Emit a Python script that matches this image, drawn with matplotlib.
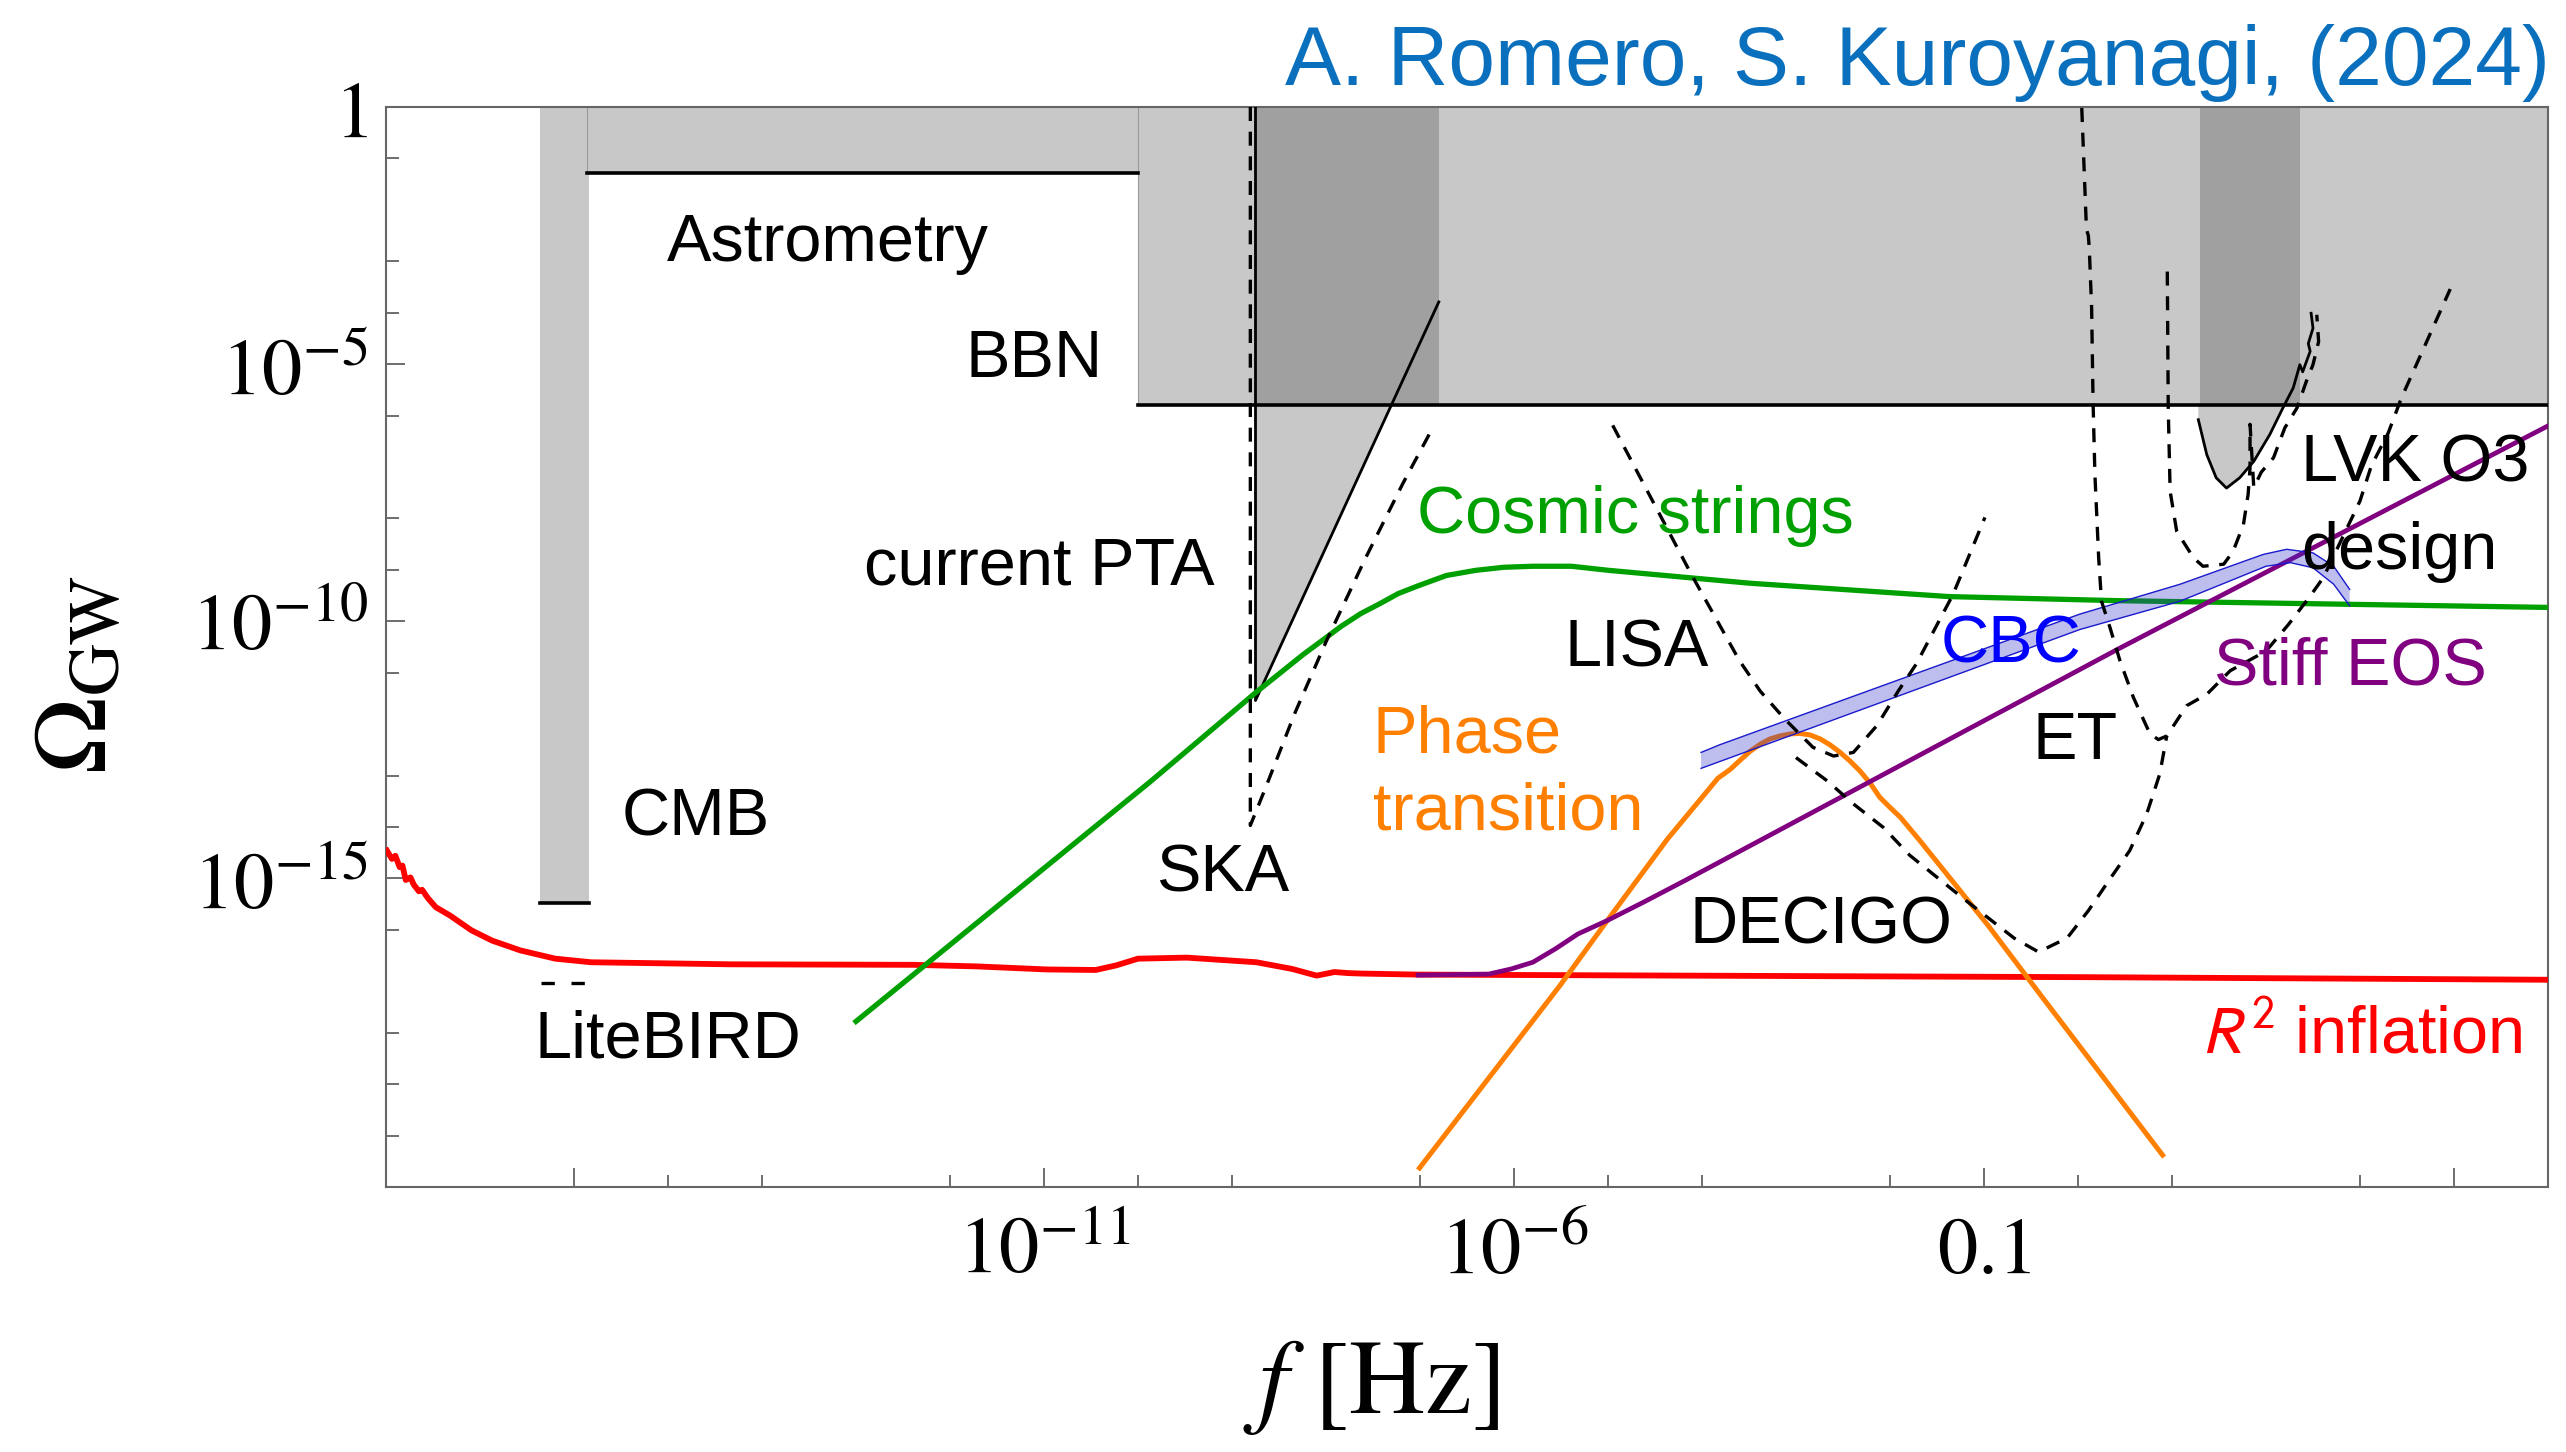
import numpy as np
import matplotlib
matplotlib.use('Agg')
import matplotlib.pyplot as plt

plt.rcParams['font.family'] = ['Liberation Sans', 'DejaVu Sans']
plt.rcParams['mathtext.fontset'] = 'stix'

# every number below is log10(f/Hz) or log10(Omega_GW)

# R^2 inflation
r2_logf = [-17.99, -17.937, -17.90, -17.855, -17.825, -17.79, -17.74, -17.705, -17.65, -17.616,
           -17.556, -17.47, -17.32, -17.09, -16.87, -16.57, -16.20, -15.82, -14.33, -12.39,
           -11.72, -10.97, -10.45, -10.23, -10.0, -9.48, -8.74, -8.36, -8.10, -7.91, -7.77,
           -7.62, -7.02, 0.08, 4.98]
r2_logom = [-14.46, -14.62, -14.56, -14.78, -14.75, -15.03, -14.98, -15.12, -15.25, -15.22,
            -15.38, -15.56, -15.72, -16.01, -16.21, -16.40, -16.56, -16.63, -16.67, -16.68,
            -16.71, -16.77, -16.78, -16.69, -16.56, -16.54, -16.63, -16.76, -16.89, -16.82, -16.84,
            -16.85, -16.87, -16.92, -16.97]

# cosmic strings
cs_logf = [-13.0, -9.87, -8.75, -8.245, -7.84, -7.63, -7.43, -7.23, -7.02, -6.72, -6.41, -6.11,
           -5.80, -5.39, -4.99, -3.49, -1.37, 0.45, 4.99]
cs_logom = [-17.78, -13.12, -11.39, -10.65, -10.10, -9.85, -9.66, -9.46, -9.31, -9.11, -9.01, -8.95,
            -8.93, -8.93, -9.01, -9.26, -9.52, -9.60, -9.73]

# stiff EOS
se_logf = [-7.02, -6.27, -6.03, -5.80, -5.56, -5.32, -5.01, -4.62, -4.18, 0.447, 4.99]
se_logom = [-16.88, -16.86, -16.76, -16.63, -16.37, -16.08, -15.82, -15.46, -15.04, -10.52, -6.21]

# phase transition
pt_logf = [-7.005, -5.51, -5.02, -4.37, -3.83, -3.70, -3.60, -3.49, -3.38, -3.28, -3.17, -3.06,
           -2.96, -2.85, -2.74, -2.64, -2.53, -2.43, -2.32, -2.21, -2.11, -2.0, -1.89, -1.68,
           -0.95, -0.38, 0.90]
pt_logom = [-20.63, -17.08, -15.85, -14.24, -13.05, -12.88, -12.71, -12.53, -12.39, -12.29, -12.23,
            -12.19, -12.18, -12.21, -12.29, -12.40, -12.55, -12.71, -12.91, -13.15, -13.42, -13.62,
            -13.81, -14.27, -15.93, -17.31, -20.38]

# CBC band
cbc_up_logf = [-4.01, -3.81, 0.02, 1.085, 1.97, 2.22, 2.50, 2.72, 2.89]
cbc_up_logom = [-12.55, -12.40, -9.86, -9.28, -8.70, -8.60, -8.67, -8.93, -9.38]
cbc_lo_logf = [-4.01, 0.02, 1.085, 2.0, 2.26, 2.50, 2.72, 2.89]
cbc_lo_logom = [-12.86, -10.16, -9.61, -8.93, -8.86, -8.96, -9.28, -9.70]

# sensitivity curves (dashed)
ska_logf = [-8.805, -8.805, -8.65, -8.33, -8.0, -7.59, -7.185, -6.88]
ska_logom = [0.0, -13.97, -13.27, -11.78, -10.40, -8.81, -7.33, -6.29]

lisa_logf = [-4.95, -4.11, -3.60, -3.38, -3.12, -2.82, -2.60, -2.39, -2.14, -1.91, -1.72, -1.33, -0.99]
lisa_logom = [-6.19, -9.10, -10.77, -11.36, -11.90, -12.45, -12.62, -12.55, -12.03, -11.35, -10.83,
              -9.48, -7.98]

decigo_logf = [-3.0, -2.67, -2.39, -2.07, -1.79, -1.22, -0.68, -0.42, -0.116, 0.113, 0.34, 0.55,
               0.73, 0.87, 0.944]
decigo_logom = [-12.65, -13.10, -13.55, -14.01, -14.55, -15.39, -16.16, -16.43, -16.16, -15.62,
                -15.01, -14.46, -13.75, -12.97, -12.23]

et_logf = [0.04, 0.09, 0.11, 0.12, 0.145, 0.16, 0.18, 0.22, 0.25, 0.34, 0.447, 0.589, 0.766, 0.855,
           0.944, 1.157, 1.37, 1.62, 2.0, 2.24, 2.47, 2.61, 3.0, 3.12, 3.30, 3.44, 3.96]
et_logom = [-0.02, -2.38, -2.5, -2.75, -3.91, -5.72, -7.15, -8.77, -9.61, -10.12, -10.77, -11.48,
            -12.19, -12.30, -12.23, -11.64, -11.42, -10.96, -10.58, -10.06, -9.51, -9.15, -7.66,
            -6.98, -6.34, -5.66, -3.54]

lvkd_logf = [0.95, 0.96, 0.98, 1.05, 1.23, 1.33, 1.55, 1.65, 1.76, 1.81, 1.83, 1.83, 1.87, 1.95,
             2.08, 2.20, 2.33, 2.43, 2.50, 2.56, 2.54]
lvkd_logom = [-3.20, -5.85, -7.47, -8.25, -8.77, -8.93, -8.89, -8.64, -8.12, -7.53, -7.02, -6.17,
              -7.40, -7.10, -6.82, -6.24, -5.85, -5.33, -5.01, -4.56, -4.04]

# LVK O3 upper limit (solid)
o3_logf = [1.28, 1.37, 1.47, 1.58, 1.72, 1.87, 2.04, 2.18, 2.29, 2.36, 2.39, 2.47, 2.45, 2.50, 2.48]
o3_logom = [-6.08, -6.76, -7.21, -7.41, -7.21, -6.89, -6.37, -5.85, -5.46, -5.01, -5.15, -4.75,
            -4.60, -4.30, -4.01]

# current PTA bound
pta_logf = [-8.75, -8.75, -6.80]
pta_logom = [0.0, -11.54, -3.79]

# constraints from boxes
bbn_logf = [-10.0, 5.0]
bbn_logom = -5.79
astro_logf = [-15.86, -10.0]
astro_logom = -1.28
cmb_logf = [-16.36, -15.84]
cmb_logom = -15.48
litebird_logf = [-16.35, -15.86]
litebird_logom = -17.04
pta_dark_logf = [-8.75, -6.80]
lvk_dark_logf = [1.30, 2.36]

x_major = [-16, -11, -6, -1, 4]
x_major_labels = ['', r'$10^{-11}$', r'$10^{-6}$', r'$0.1$', '']
x_minor = [-15, -14, -12, -10, -9, -7, -5, -4, -2, 0, 1, 3]
y_major = [0, -5, -10, -15]
y_major_labels = [r'$1$', r'$10^{-5}$', r'$10^{-10}$', r'$10^{-15}$']
y_minor = [-1, -3, -4, -6, -8, -9, -11, -13, -14, -16, -18, -19, -20]

labels = [
    ('Astrometry', -13.30, -2.66, 'black', 'center'),
    ('BBN', -11.11, -4.91, 'black', 'center'),
    ('current PTA', -11.05, -8.95, 'black', 'center'),
    ('CMB', -14.71, -13.84, 'black', 'center'),
    ('LiteBIRD', -15.0, -18.16, 'black', 'center'),
    ('SKA', -9.10, -14.92, 'black', 'center'),
    ('Cosmic strings', -4.71, -7.96, '#00a000', 'center'),
    ('LISA', -4.70, -10.54, 'black', 'center'),
    ('Phase', -7.50, -12.22, '#ff8000', 'left'),
    ('transition', -7.50, -13.72, '#ff8000', 'left'),
    ('CBC', -0.71, -10.48, '#0000ff', 'center'),
    ('ET', -0.03, -12.35, 'black', 'center'),
    ('DECIGO', -2.73, -15.94, 'black', 'center'),
    ('LVK O3', 2.37, -6.95, 'black', 'left'),
    ('design', 2.37, -8.66, 'black', 'left'),
    ('Stiff EOS', 1.45, -10.89, '#800080', 'left'),
]


def L(a):
    return 10.0 ** np.asarray(a, dtype=float)


light = '#c8c8c8'
dark = '#a0a0a0'
dash = (0, (4.2, 3.2))

fig = plt.figure(figsize=(25.66, 14.52), dpi=100)
ax = fig.add_axes([386 / 2566, 1 - 1187 / 1452, 2162 / 2566, 1080 / 1452])
ax.set_xscale('log')
ax.set_yscale('log')
ax.set_xlim(1e-18, 1e5)
ax.set_ylim(1e-21, 1)

# shaded excluded regions
ax.fill_between(L(bbn_logf), L(bbn_logom), 1, color=light, lw=0, zorder=1)
ax.fill_between(L(astro_logf), L(astro_logom), 1, color=light, lw=0, zorder=1)
ax.fill_between(L(cmb_logf), L(cmb_logom), 1, color=light, lw=0, zorder=1)
ax.fill(L(pta_logf + [pta_logf[-1]]), L(pta_logom + [0.0]), color=light, lw=0, zorder=1)
ax.fill(L([o3_logf[0]] + o3_logf + [o3_logf[-1]]), L([0.0] + o3_logom + [0.0]),
        color=light, lw=0, zorder=1)
ax.fill_between(L(pta_dark_logf), L(bbn_logom), 1, color=dark, lw=0, zorder=1.5)
ax.fill_between(L(lvk_dark_logf), L(bbn_logom), 1, color=dark, lw=0, zorder=1.5)
ax.plot(L([astro_logf[0]] * 2), L([astro_logom, 0]), color='#9a9a9a', lw=0.8, zorder=1.6)
ax.plot(L([bbn_logf[0]] * 2), L([bbn_logom, 0]), color='#9a9a9a', lw=0.8, zorder=1.6)

# bound lines
ax.plot(L(bbn_logf), L([bbn_logom] * 2), color='black', lw=2.6, zorder=3)
ax.plot(L(astro_logf), L([astro_logom] * 2), color='black', lw=2.6, zorder=3)
ax.plot(L(cmb_logf), L([cmb_logom] * 2), color='black', lw=2.6, zorder=3)
ax.plot(L(litebird_logf), L([litebird_logom] * 2), color='black', lw=2.4, ls=(0, (4, 5)), zorder=3)
ax.plot(L(pta_logf), L(pta_logom), color='black', lw=2.0, zorder=3)
ax.plot(L(o3_logf), L(o3_logom), color='black', lw=2.0, zorder=3)

# signals
ax.plot(L(r2_logf), L(r2_logom), color='#ff0000', lw=4.2, zorder=4)
ax.plot(L(cs_logf), L(cs_logom), color='#00a000', lw=3.8, zorder=4)
ax.plot(L(pt_logf), L(pt_logom), color='#ff8000', lw=3.6, zorder=4)
ax.plot(L(se_logf), L(se_logom), color='#800080', lw=3.4, zorder=4.2)
ax.fill(L(cbc_up_logf + cbc_lo_logf[::-1]), L(cbc_up_logom + cbc_lo_logom[::-1]),
        color='#3333cc', alpha=0.32, lw=0, zorder=4.5)
ax.plot(L(cbc_up_logf), L(cbc_up_logom), color='#1a1acc', lw=1.0, zorder=4.6)
ax.plot(L(cbc_lo_logf), L(cbc_lo_logom), color='#1a1acc', lw=1.0, zorder=4.6)

# detector sensitivities
for xs, ys in [(ska_logf, ska_logom), (lisa_logf, lisa_logom), (decigo_logf, decigo_logom),
               (et_logf, et_logom), (lvkd_logf, lvkd_logom)]:
    ax.plot(L(xs), L(ys), color='black', lw=2.4, ls=dash, zorder=5)

for txt, lx, ly, col, ha in labels:
    ax.text(L(lx), L(ly), txt, color=col, fontsize=48, ha=ha, va='center', zorder=6)
ax.text(L(1.31), L(-18.07), r'$R^2$ inflation', color='#ff0000', fontsize=48, ha='left',
        va='center', math_fontfamily='stixsans', zorder=6)

fig.text(2550 / 2566, 1 - 85 / 1452, 'A. Romero, S. Kuroyanagi, (2024)', color='#0a70bd',
         fontsize=60.5, ha='right', va='baseline')

# ticks
ax.set_xticks(L(x_major), x_major_labels)
ax.set_xticks(L(x_minor), minor=True)
ax.set_yticks(L(y_major), y_major_labels)
ax.set_yticks(L(y_minor), minor=True)
ax.xaxis.set_minor_formatter(matplotlib.ticker.NullFormatter())
ax.yaxis.set_minor_formatter(matplotlib.ticker.NullFormatter())
ax.tick_params(which='major', direction='in', length=14, width=1.2, color='#555555', labelsize=58)
ax.tick_params(which='minor', direction='in', length=9, width=1.2, color='#555555')
ax.tick_params(axis='x', which='major', pad=47)
ax.tick_params(axis='y', which='major', pad=13)
for lab in ax.get_xticklabels():
    lab.set_va('center')
for s in ax.spines.values():
    s.set_color('#666666')
    s.set_linewidth(1.5)

ax.set_xlabel(r'$f\ [\mathrm{Hz}]$', fontsize=76)
ax.xaxis.set_label_coords(0.4556, -0.14)
ax.set_ylabel(r'$\Omega_{\mathrm{GW}}$', fontsize=74)
ax.yaxis.set_label_coords(-0.119, 0.475)

fig.savefig('out.png', dpi=100)
